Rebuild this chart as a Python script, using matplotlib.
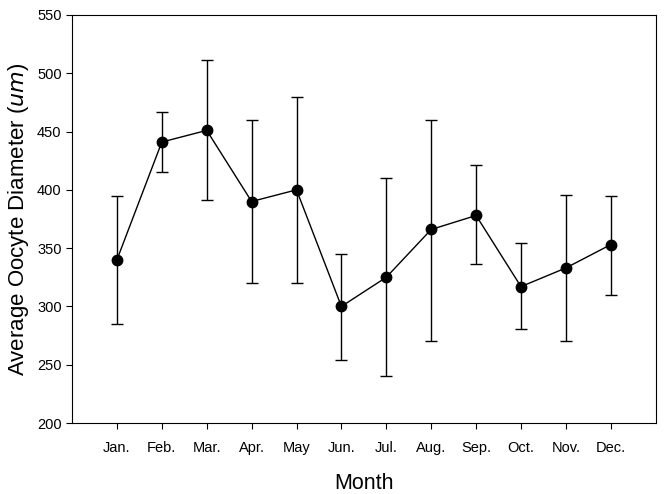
import matplotlib.pyplot as plt
import numpy as np

# monthly oocyte diameter
months = ["Jan.", "Feb.", "Mar.", "Apr.", "May", "Jun.",
          "Jul.", "Aug.", "Sep.", "Oct.", "Nov.", "Dec."]
mean_diam = [340, 441, 451, 390, 400, 300, 325, 366, 378, 317, 333, 353]
upper = [395, 467, 511, 460, 480, 345, 410, 460, 421, 354, 396, 395]
lower = [285, 415, 391, 320, 320, 254, 240, 270, 336, 281, 270, 310]

plt.rcParams['font.family'] = ['Liberation Sans', 'DejaVu Sans']

x = np.arange(1, len(months) + 1)
mean_arr = np.array(mean_diam)
err = [mean_arr - np.array(lower), np.array(upper) - mean_arr]

fig = plt.figure(figsize=(6.67, 4.94), dpi=100)
ax = fig.add_axes([0.108, 0.1437, 0.875, 0.826])

ax.errorbar(x, mean_arr, yerr=err, fmt='o-', color='black', markersize=7.5,
            linewidth=1.0, elinewidth=1.0, capsize=4.6, capthick=1.0)

ax.set_xlim(0, 13)
ax.set_ylim(200, 550)
ax.set_xticks(x)
ax.set_xticklabels(months, fontsize=10.5)
ax.set_yticks(range(200, 551, 50))
ax.tick_params(axis='y', labelsize=10.5, direction='out', length=4)
ax.tick_params(axis='x', direction='out', length=4, pad=9)

ax.set_xlabel("Month", fontsize=15.5, labelpad=13)
ax.set_ylabel("Average Oocyte Diameter ($\\it{um}$)", fontsize=16, labelpad=4)

fig.savefig("out.png", dpi=100)
